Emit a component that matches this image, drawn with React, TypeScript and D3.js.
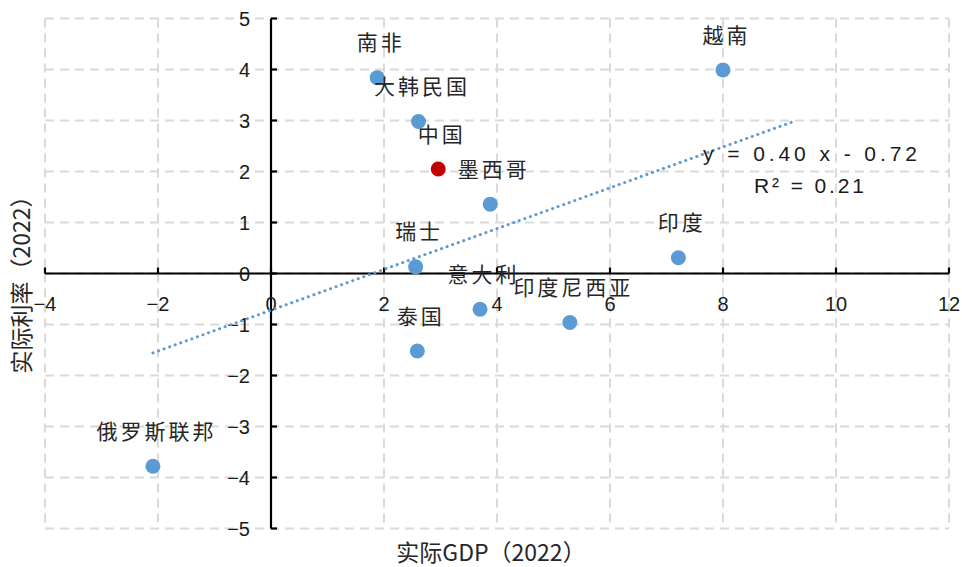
import React from "react";
import * as d3 from "d3";

// Country observations: real GDP growth vs. real interest rate, 2022
const countries = ["南非", "大韩民国", "中国", "墨西哥", "瑞士", "意大利", "印度尼西亚", "泰国", "俄罗斯联邦", "印度", "越南"];
const gdpGrowth = [1.88, 2.61, 2.96, 3.88, 2.56, 3.7, 5.29, 2.59, -2.09, 7.21, 8.0];
const realRate = [3.84, 2.98, 2.05, 1.36, 0.13, -0.7, -0.96, -1.52, -3.78, 0.31, 3.99];
const highlighted = ["中国"];

// Linear trend: y = slope * x + intercept, drawn over [trendFrom, trendTo]
const trendSlope = 0.4;
const trendIntercept = -0.72;
const trendR2 = 0.21;
const trendFrom = -2.09;
const trendTo = 9.3;

const xTicks = [-4, -2, 0, 2, 4, 6, 8, 10, 12];
const yTicks = [-5, -4, -3, -2, -1, 0, 1, 2, 3, 4, 5];

const W = 962;
const H = 567;

export default function App() {
  const x = d3.scaleLinear().domain([-4, 12]).range([45, 949]);
  const y = d3.scaleLinear().domain([-5, 5]).range([528.5, 18.5]);
  const fmt = d3.format("");

  const x0 = x(0);
  const y0 = y(0);

  const trendLine = d3
    .line<number>()
    .x((d) => x(d))
    .y((d) => y(trendSlope * d + trendIntercept));

  const blue = "#5B9BD5";
  const red = "#C00000";
  const grid = "#D9D9D9";
  const sans = "'Liberation Sans', Arial, sans-serif";
  const cjk = "'Noto Sans CJK SC', sans-serif";

  const eqText = `y = ${trendSlope.toFixed(2)} x - ${Math.abs(trendIntercept).toFixed(2)}`;
  const r2Text = `R² = ${trendR2.toFixed(2)}`;

  return (
    <svg
      width={W}
      height={H}
      viewBox={`0 0 ${W} ${H}`}
      style={{ position: "absolute", left: 0, top: 0, background: "#fff" }}
    >
      {/* dashed grid */}
      <g stroke={grid} strokeWidth={2} strokeDasharray="9 6" fill="none">
        {xTicks.map((t) => (
          <line key={`gx${t}`} x1={x(t)} x2={x(t)} y1={y(5)} y2={y(-5)} />
        ))}
        {yTicks.map((t) => (
          <line key={`gy${t}`} x1={x(-4)} x2={x(12)} y1={y(t)} y2={y(t)} />
        ))}
      </g>

      {/* axes through the origin */}
      <g stroke="#000" strokeWidth={2.2}>
        <line x1={x(-4)} x2={x(12)} y1={y0} y2={y0} />
        <line x1={x0} x2={x0} y1={y(5)} y2={y(-5)} />
        {xTicks.map((t) => (
          <line key={`tx${t}`} x1={x(t)} x2={x(t)} y1={y0} y2={y0 - 6} />
        ))}
        {yTicks.map((t) => (
          <line key={`ty${t}`} x1={x0} x2={x0 + 6} y1={y(t)} y2={y(t)} />
        ))}
      </g>

      {/* tick labels */}
      <g fontFamily={sans} fontSize={20} fill="#1a1a1a">
        {xTicks.map((t) => (
          <text key={`lx${t}`} x={x(t)} y={y0 + 37} textAnchor="middle">
            {fmt(t)}
          </text>
        ))}
        {yTicks.map((t) => (
          <text key={`ly${t}`} x={x0 - 21} y={y(t)} dy="0.36em" textAnchor="end">
            {fmt(t)}
          </text>
        ))}
      </g>

      {/* trend line */}
      <path
        d={trendLine([trendFrom, trendTo]) || ""}
        fill="none"
        stroke={blue}
        strokeWidth={3}
        strokeLinecap="round"
        strokeDasharray="0.1 5.8"
      />

      {/* points */}
      {countries.map((c, i) => (
        <circle
          key={`p${c}`}
          cx={x(gdpGrowth[i])}
          cy={y(realRate[i])}
          r={7.5}
          fill={highlighted.includes(c) ? red : blue}
        />
      ))}

      {/* point labels */}
      <g fontFamily={cjk} fontSize={21} fill="#262626" letterSpacing={3}>
        {countries.map((c, i) => (
          <text
            key={`t${c}`}
            x={x(gdpGrowth[i]) + 3.5}
            y={y(realRate[i]) - 35}
            dy="0.36em"
            textAnchor="middle"
          >
            {c}
          </text>
        ))}
      </g>

      {/* trend equation */}
      <g fontFamily={sans} fontSize={21} fill="#1a1a1a">
        <text x={703} y={161} textLength={214} lengthAdjust="spacing">
          {eqText}
        </text>
        <text x={754} y={193} textLength={110} lengthAdjust="spacing">
          {r2Text}
        </text>
      </g>

      {/* axis titles */}
      <text x={491} y={553} dy="0.36em" textAnchor="middle" fontFamily={cjk} fontSize={23} fill="#262626">
        实际GDP（2022）
      </text>
      <text
        transform={`translate(22, 279) rotate(-90)`}
        dy="0.36em"
        textAnchor="middle"
        fontFamily={cjk}
        fontSize={23}
        fill="#262626"
      >
        实际利率（2022）
      </text>
    </svg>
  );
}
